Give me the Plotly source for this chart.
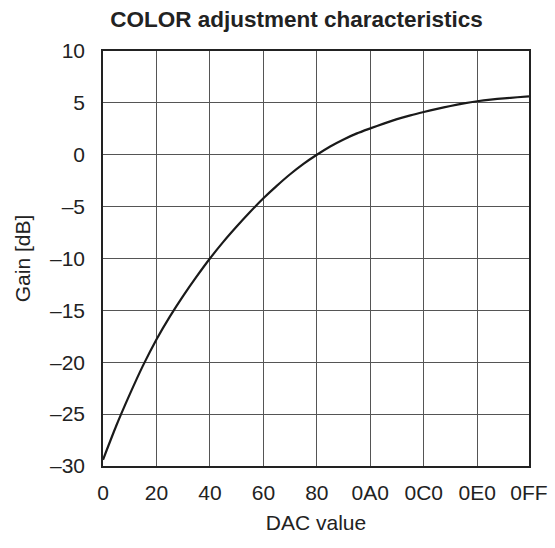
import plotly.graph_objects as go

# Data (DAC values in decimal; tick labels in hex as printed)
dac = [0, 8, 16, 24, 32, 40, 48, 56, 64, 72, 80, 88, 96, 104, 112, 120, 128,
       136, 144, 152, 160, 168, 176, 184, 192, 200, 208, 216, 224, 232, 240, 248, 255]
gain_db = [-29.4, -26.1, -23.1, -20.3, -17.8, -15.6, -13.6, -11.75, -10.0,
           -8.4, -6.92, -5.52, -4.2, -3.0, -1.88, -0.88, 0.0,
           0.8, 1.48, 2.06, 2.54, 3.0, 3.43, 3.8, 4.12, 4.42, 4.7, 4.95, 5.16,
           5.32, 5.44, 5.54, 5.62]

x_tickvals = [0, 32, 64, 96, 128, 160, 192, 224, 255]
x_ticktext = ["0", "20", "40", "60", "80", "0A0", "0C0", "0E0", "0FF"]
y_tickvals = [10, 5, 0, -5, -10, -15, -20, -25, -30]
y_ticktext = ["10", "5", "0", "–5", "–10", "–15", "–20", "–25", "–30"]

font = "Liberation Sans, Arial, sans-serif"

fig = go.Figure()
fig.add_trace(go.Scatter(
    x=dac, y=gain_db, mode="lines",
    line=dict(color="#1a1a1a", width=2.2, shape="spline", smoothing=0.6),
    showlegend=False, hoverinfo="skip",
))

fig.update_layout(
    width=555, height=548,
    margin=dict(l=103, r=26, t=51, b=82, autoexpand=False),
    paper_bgcolor="white", plot_bgcolor="white",
    font=dict(family=font, size=21, color="#222"),
    title=dict(text="<b>COLOR adjustment characteristics</b>", x=296.5 / 555,
               xanchor="center", y=1 - 19 / 548, yanchor="middle",
               font=dict(family=font, size=22.5, color="#222")),
)
fig.update_xaxes(
    range=[0, 255], tickvals=x_tickvals, ticktext=x_ticktext,
    showgrid=True, gridcolor="#555", gridwidth=1,
    showline=True, linecolor="#222", linewidth=1.5, mirror=True,
    ticks="", zeroline=False, ticklabelstandoff=7,
    title=dict(text="DAC value", standoff=12, font=dict(size=21)),
)
fig.update_yaxes(
    range=[-30, 10], tickvals=y_tickvals, ticktext=y_ticktext,
    showgrid=True, gridcolor="#555", gridwidth=1,
    showline=True, linecolor="#222", linewidth=1.5, mirror=True,
    ticks="", zeroline=False, ticklabelstandoff=12,
    title=dict(text="Gain [dB]", standoff=14, font=dict(size=21)),
)

fig.write_html("out.html", config={"displayModeBar": False},
               post_script="document.body.style.margin='0';")
